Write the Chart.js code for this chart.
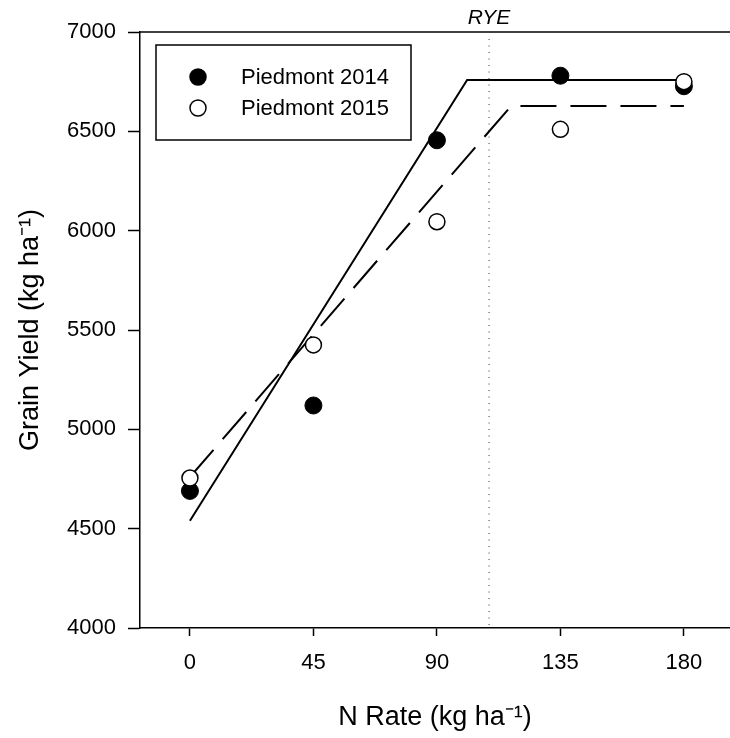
<!DOCTYPE html>
<html lang="en">
<head>
  <meta charset="UTF-8">
  <title>Grain Yield vs N Rate</title>
  <script src="https://cdn.jsdelivr.net/npm/chart.js"></script>
  <style>
    body {
      margin: 0;
      background: #fff;
    }
    #yieldChart {
      display: block;
    }
  </style>
</head>
<body>
  <canvas id="yieldChart" width="730" height="738"></canvas>

  <script>
    // N rates (kg ha-1) and measured grain yield (kg ha-1)
    const nRates = [0, 45, 90, 135, 180];
    const yield2014 = [4690, 5120, 6455, 6780, 6727];
    const yield2015 = [4755, 5425, 6045, 6510, 6750];

    // linear-plateau fits (x, y pairs of the knots)
    const fit2014X = [0, 101, 180];
    const fit2014Y = [4540, 6758, 6758];
    const fit2015X = [0, 117, 180];
    const fit2015Y = [4760, 6627, 6627];

    // RYE reference line
    const ryeN = 109;
    const ryeSpan = [4015, 6985];

    const yTicks = [4000, 4500, 5000, 5500, 6000, 6500, 7000];
    const seriesNames = ['Piedmont 2014', 'Piedmont 2015'];

    const toXY = (xs, ys) => xs.map((x, i) => ({ x: x, y: ys[i] }));

    Chart.defaults.font.family = '"Liberation Sans", Arial, sans-serif';
    Chart.defaults.color = '#000';

    // top frame line, RYE label and boxed legend
    const extras = {
      id: 'extras',
      afterDatasetsDraw(chart) {
        const { ctx, chartArea, scales } = chart;
        ctx.save();
        ctx.strokeStyle = '#000';
        ctx.lineWidth = 1.5;
        ctx.beginPath();
        ctx.moveTo(chartArea.left, chartArea.top);
        ctx.lineTo(chartArea.right, chartArea.top);
        ctx.stroke();

        ctx.fillStyle = '#000';
        ctx.font = 'italic 21px "Liberation Sans", Arial, sans-serif';
        ctx.textAlign = 'center';
        ctx.textBaseline = 'middle';
        ctx.fillText('RYE', scales.x.getPixelForValue(ryeN), 18);

        // legend box
        ctx.fillStyle = '#fff';
        ctx.fillRect(156, 45, 255, 95);
        ctx.lineWidth = 1.5;
        ctx.strokeRect(156, 45, 255, 95);
        const rows = [
          { label: seriesNames[0], fill: '#000', y: 77 },
          { label: seriesNames[1], fill: '#fff', y: 108 }
        ];
        ctx.font = '22px "Liberation Sans", Arial, sans-serif';
        ctx.textAlign = 'left';
        rows.forEach(r => {
          ctx.beginPath();
          ctx.arc(198, r.y, 8, 0, Math.PI * 2);
          ctx.fillStyle = r.fill;
          ctx.fill();
          ctx.lineWidth = 1.5;
          ctx.stroke();
          ctx.fillStyle = '#000';
          ctx.fillText(r.label, 241, r.y + 1);
        });
        ctx.restore();
      }
    };

    const ctx = document.getElementById('yieldChart').getContext('2d');
    const yieldChart = new Chart(ctx, {
      type: 'scatter',
      data: {
        datasets: [
          {
            label: seriesNames[1],
            data: toXY(nRates, yield2015),
            backgroundColor: '#fff',
            borderColor: '#000',
            borderWidth: 1.5,
            pointRadius: 8,
            order: 0
          },
          {
            label: seriesNames[0],
            data: toXY(nRates, yield2014),
            backgroundColor: '#000',
            borderColor: '#000',
            borderWidth: 1,
            pointRadius: 8.5,
            order: 1
          },
          {
            label: 'fit 2014',
            data: toXY(fit2014X, fit2014Y),
            showLine: true,
            borderColor: '#000',
            borderWidth: 2,
            pointRadius: 0,
            order: 2
          },
          {
            label: 'fit 2015',
            data: toXY(fit2015X, fit2015Y),
            showLine: true,
            borderColor: '#000',
            borderWidth: 2,
            borderDash: [36, 14],
            pointRadius: 0,
            order: 3
          },
          {
            label: 'RYE',
            data: [{ x: ryeN, y: ryeSpan[0] }, { x: ryeN, y: ryeSpan[1] }],
            showLine: true,
            borderColor: '#333',
            borderWidth: 1,
            borderDash: [1, 5.5],
            pointRadius: 0,
            order: 4
          }
        ]
      },
      options: {
        responsive: false,
        animation: false,
        events: [],
        layout: {
          autoPadding: false,
          padding: { top: 32, right: 0, bottom: 0, left: 0 }
        },
        plugins: {
          legend: { display: false },
          tooltip: { enabled: false }
        },
        scales: {
          x: {
            type: 'linear',
            min: -18.2,
            max: 196.8,
            afterBuildTicks: axis => {
              axis.ticks = nRates.map(v => ({ value: v }));
            },
            afterFit: axis => {
              axis.height = 110;
              axis.paddingLeft = 0;
              axis.paddingRight = 0;
            },
            border: { color: '#000', width: 1.5 },
            grid: {
              drawOnChartArea: false,
              drawTicks: true,
              tickLength: 8,
              tickColor: '#000',
              tickWidth: 1.5
            },
            ticks: {
              font: { size: 22 },
              padding: 14,
              maxRotation: 0,
              callback: v => String(v)
            },
            title: {
              display: true,
              text: 'N Rate (kg ha\u207B\u00B9)',
              font: { size: 27 },
              padding: { top: 0, bottom: 4 }
            }
          },
          y: {
            min: 4000,
            max: 7000,
            afterBuildTicks: axis => {
              axis.ticks = yTicks.map(v => ({ value: v }));
            },
            afterFit: axis => {
              axis.width = 140;
              axis.paddingTop = 0;
              axis.paddingBottom = 0;
            },
            border: { color: '#000', width: 1.5 },
            grid: {
              drawOnChartArea: false,
              drawTicks: true,
              tickLength: 12,
              tickColor: '#000',
              tickWidth: 1.5
            },
            ticks: {
              font: { size: 22 },
              padding: 12,
              callback: v => String(v)
            },
            title: {
              display: true,
              text: 'Grain Yield (kg ha\u207B\u00B9)',
              font: { size: 27 },
              padding: { top: 14, bottom: 0 }
            }
          }
        }
      },
      plugins: [extras]
    });
  </script>
</body>
</html>
